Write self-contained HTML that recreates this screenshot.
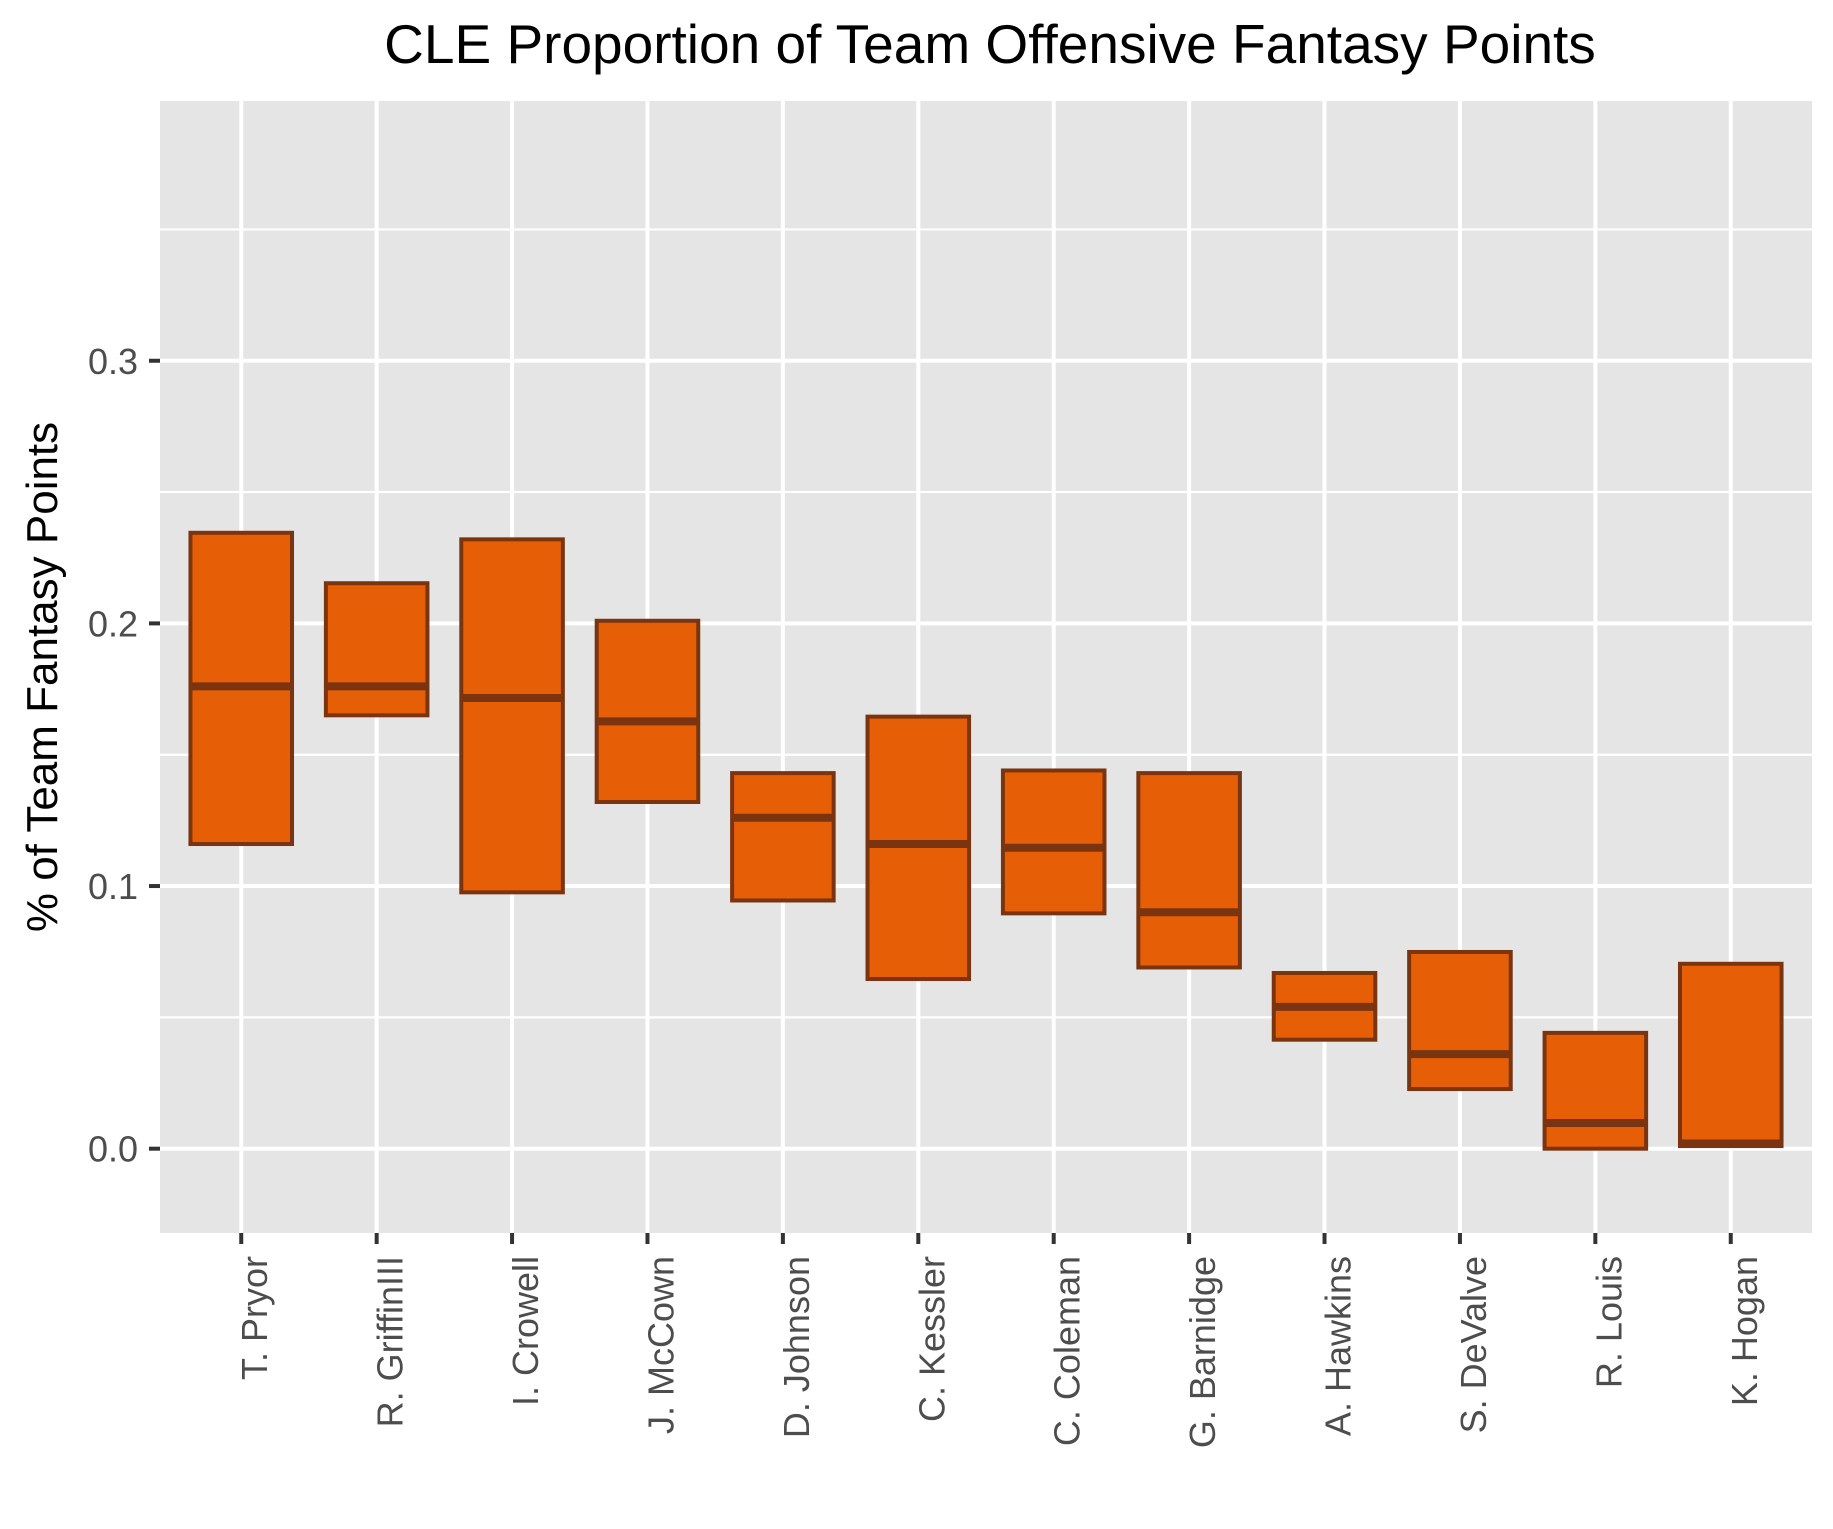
<!DOCTYPE html>
<html><head><meta charset="utf-8"><style>html,body{margin:0;padding:0;background:#fff}svg{display:block}</style></head>
<body>
<svg id="chart" width="1833" height="1529" viewBox="0 0 1833 1529" xmlns="http://www.w3.org/2000/svg" font-family="'Liberation Sans', Arial, sans-serif">
<text x="990" y="63" text-anchor="middle" font-size="55" fill="#000">CLE Proportion of Team Offensive Fantasy Points</text>
<rect x="160" y="101" width="1652" height="1132" fill="#E5E5E5"/>
<g id="grid"></g>
<g id="boxes"></g>
<g id="axes"></g>
<text transform="translate(57,677) rotate(-90)" text-anchor="middle" font-size="44" fill="#000">% of Team Fantasy Points</text>
</svg>
<script>
const players = ["T. Pryor","R. GriffinIII","I. Crowell","J. McCown","D. Johnson","C. Kessler","C. Coleman","G. Barnidge","A. Hawkins","S. DeValve","R. Louis","K. Hogan"];
const upper = [0.2345,0.2153,0.232,0.201,0.143,0.1645,0.144,0.143,0.0669,0.0749,0.0441,0.0704];
const median = [0.176,0.176,0.1716,0.1627,0.126,0.116,0.1146,0.090,0.054,0.036,0.0098,0.002];
const lower = [0.116,0.165,0.0976,0.132,0.0945,0.0646,0.0896,0.069,0.0415,0.0227,0.0,0.001];
const yTicks = [0.0,0.1,0.2,0.3];
const yTickLabels = ["0.0","0.1","0.2","0.3"];
const yMinor = [0.05,0.15,0.25,0.35];

const NS="http://www.w3.org/2000/svg";
const panel={x0:160,x1:1812,y0:101,y1:1233};
const vMin=-0.0321, vMax=0.3989;
function y(v){return panel.y1-(v-vMin)/(vMax-vMin)*(panel.y1-panel.y0);}
const step=(panel.x1-panel.x0)/(players.length-1+1.2);
function x(i){return panel.x0+step*(0.6+i);}
function mk(tag,attrs,parent){const e=document.createElementNS(NS,tag);for(const k in attrs)e.setAttribute(k,attrs[k]);parent.appendChild(e);return e;}
const grid=document.getElementById('grid'),boxes=document.getElementById('boxes'),axes=document.getElementById('axes');
yMinor.forEach(v=>{const l=mk('line',{x1:panel.x0,x2:panel.x1,y1:y(v),y2:y(v),stroke:'#fff','stroke-width':2.2},grid);

});
yTicks.forEach((v,i)=>{const l=mk('line',{x1:panel.x0,x2:panel.x1,y1:y(v),y2:y(v),stroke:'#fff','stroke-width':4},grid);


const t=mk('line',{x1:149,x2:160,y1:y(v),y2:y(v),stroke:'#333','stroke-width':4},axes);


const tx=mk('text',{x:138,y:y(v)+13,'text-anchor':'end','font-size':36,fill:'#4D4D4D'},axes);
tx.textContent=yTickLabels[i];

});
players.forEach((p,i)=>{const cx=x(i);
const g=mk('line',{x1:cx,x2:cx,y1:panel.y0,y2:panel.y1,stroke:'#fff','stroke-width':4},grid);


const w=step*0.75;
const r=mk('rect',{x:cx-w/2,y:y(upper[i]),width:w,height:y(lower[i])-y(upper[i]),fill:'#E65F07',stroke:'#7A3410','stroke-width':4},boxes);


const m=mk('line',{x1:cx-w/2,x2:cx+w/2,y1:y(median[i]),y2:y(median[i]),stroke:'#7A3410','stroke-width':8},boxes);


const t=mk('line',{x1:cx,x2:cx,y1:panel.y1,y2:panel.y1+11,stroke:'#333','stroke-width':4},axes);


const tx=mk('text',{transform:`translate(${cx+26},1256) rotate(-90)`,'text-anchor':'end','font-size':36,fill:'#4D4D4D'},axes);
tx.textContent=p;

});
</script>
</body></html>
